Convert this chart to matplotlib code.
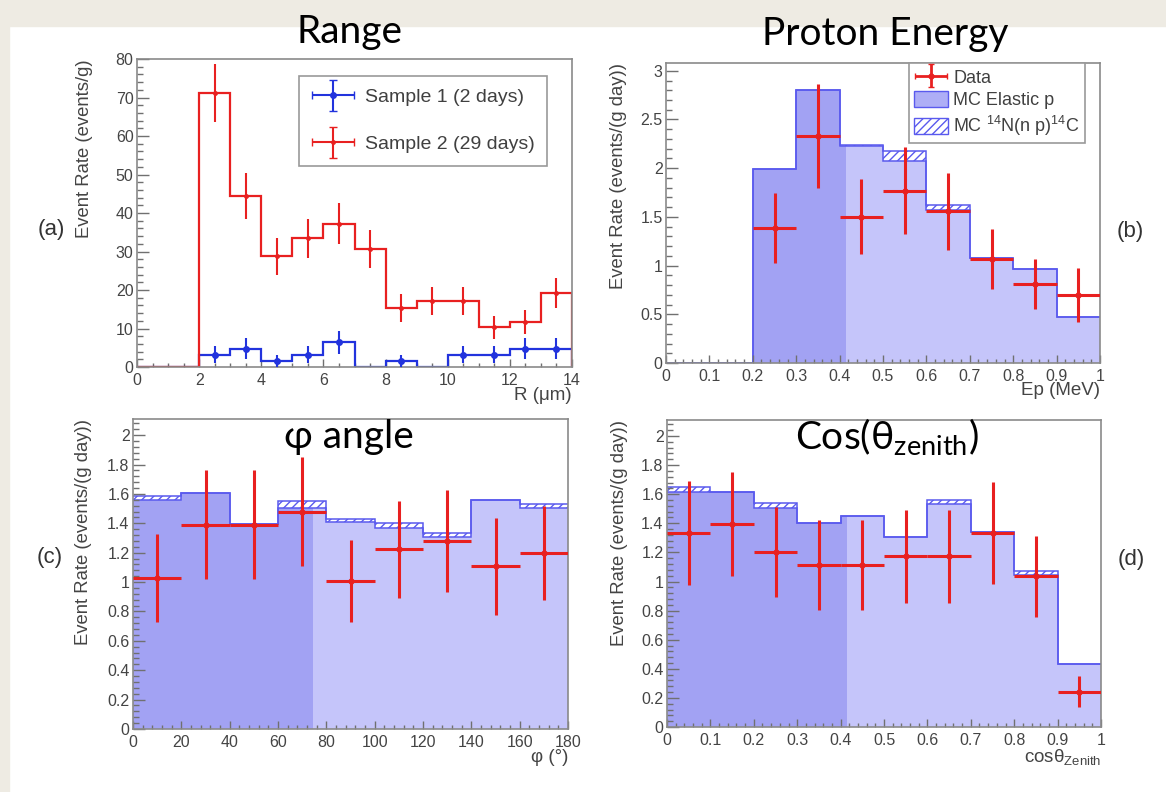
import numpy as np
import matplotlib
matplotlib.use('Agg')
import matplotlib.pyplot as plt
from matplotlib.patches import Rectangle, Patch
from matplotlib.container import ErrorbarContainer
from matplotlib.legend_handler import HandlerErrorbar
from matplotlib.ticker import MultipleLocator, FuncFormatter

# ---------------- data ----------------
# (a) Range
range_edges = np.arange(0, 15, 1)
s1_rate = np.array([0, 0, 3.2, 4.8, 1.6, 3.2, 6.4, 0, 1.6, 0, 3.2, 3.2, 4.8, 4.8])
s1_err = np.array([0, 0, 2.2, 2.7, 1.6, 2.2, 3.0, 0, 1.6, 0, 2.2, 2.2, 2.7, 2.7])
s2_rate = np.array([0, 0, 71.2, 44.5, 28.8, 33.4, 37.2, 30.6, 15.3, 17.2, 17.2, 10.3, 11.8, 19.2])
s2_err = np.array([0, 0, 7.5, 6.0, 4.8, 5.1, 5.3, 4.9, 3.7, 3.7, 3.7, 2.9, 3.1, 3.9])
range_labels = ['Sample 1 (2 days)', 'Sample 2 (29 days)']

# (b) Proton energy
ep_edges = np.round(np.arange(0, 1.01, 0.1), 2)
ep_mc_elastic = np.array([0, 0, 1.99, 2.80, 2.23, 2.07, 1.57, 1.08, 0.97, 0.47])
ep_mc_n14 = np.array([0, 0, 0, 0, 0.01, 0.11, 0.05, 0, 0, 0])
ep_centers = np.array([0.25, 0.35, 0.45, 0.55, 0.65, 0.75, 0.85, 0.95])
ep_data = np.array([1.39, 2.33, 1.50, 1.77, 1.56, 1.07, 0.81, 0.70])
ep_err = np.array([0.36, 0.535, 0.385, 0.45, 0.395, 0.31, 0.26, 0.275])
mc_labels = ['Data', 'MC Elastic p', r'MC $^{14}$N(n p)$^{14}$C']

# (c) phi angle
phi_edges = np.arange(0, 181, 20)
phi_mc_elastic = np.array([1.557, 1.607, 1.393, 1.507, 1.41, 1.368, 1.307, 1.557, 1.507])
phi_mc_n14 = np.array([0.03, 0, 0, 0.045, 0.022, 0.037, 0.027, 0, 0.027])
phi_centers = np.arange(10, 180, 20)
phi_data = np.array([1.03, 1.39, 1.39, 1.48, 1.005, 1.223, 1.28, 1.109, 1.2])
phi_err = np.array([0.30, 0.37, 0.37, 0.37, 0.28, 0.33, 0.35, 0.33, 0.32])

# (d) cos zenith
cos_edges = np.round(np.arange(0, 1.01, 0.1), 2)
cos_mc_elastic = np.array([1.617, 1.614, 1.503, 1.399, 1.447, 1.304, 1.53, 1.338, 1.043, 0.435])
cos_mc_n14 = np.array([0.031, 0, 0.039, 0, 0, 0, 0.028, 0, 0.03, 0])
cos_centers = np.round(np.arange(0.05, 1.0, 0.1), 2)
cos_data = np.array([1.331, 1.395, 1.202, 1.116, 1.116, 1.172, 1.172, 1.333, 1.036, 0.243])
cos_err = np.array([0.357, 0.355, 0.31, 0.31, 0.31, 0.32, 0.32, 0.35, 0.28, 0.105])

titles = ['Range', 'Proton Energy', 'φ angle', r'Cos(θ$_{zenith}$)']
panel_tags = ['(a)', '(b)', '(c)', '(d)']

# ---------------- style ----------------
plt.rcParams['font.family'] = ['Liberation Sans', 'DejaVu Sans']
plt.rcParams['mathtext.default'] = 'regular'
plt.rcParams['hatch.linewidth'] = 1.0

RED = '#e82020'
BLUE = '#2233dd'
DARK_FILL = '#a2a2f3'
LIGHT_FILL = '#c5c5fa'
OUTLINE = '#5a5aee'
HATCH = '#5a5aee'
GREY = '#8a8a8a'
TICKLBL = '#444444'
BEIGE = '#eeebe3'
TITLE_FONT = ['Lato', 'Open Sans', 'DejaVu Sans']

W, H = 1166, 792
fig = plt.figure(figsize=(W / 100, H / 100), dpi=100)
fig.patch.set_facecolor('white')
fig.add_artist(Rectangle((0, 1 - 26 / H), 1, 26 / H, transform=fig.transFigure,
                         color=BEIGE, zorder=-10))
fig.add_artist(Rectangle((0, 0), 9 / W, 1, transform=fig.transFigure,
                         color=BEIGE, zorder=-10))


def px_axes(l, t, r, b):
    return fig.add_axes([l / W, 1 - b / H, (r - l) / W, (b - t) / H])


def gfmt(v, p):
    return f'{v:g}'


def style(ax, xlim, ylim, xmaj, xmin, ymaj, ymin):
    ax.set_xlim(*xlim)
    ax.set_ylim(*ylim)
    ax.xaxis.set_major_locator(MultipleLocator(xmaj))
    ax.xaxis.set_minor_locator(MultipleLocator(xmin))
    ax.yaxis.set_major_locator(MultipleLocator(ymaj))
    ax.yaxis.set_minor_locator(MultipleLocator(ymin))
    ax.xaxis.set_major_formatter(FuncFormatter(gfmt))
    ax.yaxis.set_major_formatter(FuncFormatter(gfmt))
    ax.tick_params(which='both', direction='in', top=False, right=False,
                   color='#707070', labelcolor=TICKLBL, labelsize=11.5, width=1.0)
    ax.tick_params(axis='y', which='major', length=8.5, pad=2.5)
    ax.tick_params(axis='y', which='minor', length=4.5)
    ax.tick_params(axis='x', which='major', length=6, pad=4)
    ax.tick_params(axis='x', which='minor', length=3)
    for s in ax.spines.values():
        s.set_color(GREY)
        s.set_linewidth(1.2)


def labels(ax, xl, yl, yx):
    ax.set_xlabel(xl, loc='right', fontsize=13.5, color=TICKLBL)
    ax.xaxis.set_label_coords(1.0, -0.065)
    ax.xaxis.label.set_va('top')
    ax.set_ylabel(yl, loc='top', fontsize=13.3, color=TICKLBL)
    ax.yaxis.set_label_coords(yx, 1.0)


ax_a = px_axes(137, 59, 572, 367)
ax_b = px_axes(666, 63, 1100, 363)
ax_c = px_axes(133, 419, 568, 729)
ax_d = px_axes(667, 420, 1101, 727)

# ---------------- (a) ----------------
centers_a = (range_edges[:-1] + range_edges[1:]) / 2
ax_a.stairs(s1_rate, range_edges, color=BLUE, lw=1.6, zorder=2)
ax_a.stairs(s2_rate, range_edges, color=RED, lw=1.6, zorder=2.1)
m1 = s1_rate > 0
ax_a.errorbar(centers_a[m1], s1_rate[m1], yerr=s1_err[m1], fmt='o', ms=4,
              color=BLUE, lw=1.5, capsize=0, zorder=3)
m2 = s2_rate > 0
ax_a.errorbar(centers_a[m2], s2_rate[m2], yerr=s2_err[m2], fmt='o', ms=2.5,
              color=RED, lw=1.5, capsize=0, zorder=3)
style(ax_a, (0, 14), (0, 80), 2, 0.5, 10, 2)
labels(ax_a, 'R (μm)', 'Event Rate (events/g)', -0.101)

prox1 = ax_a.errorbar([np.nan], [np.nan], xerr=[1], yerr=[1], fmt='o', ms=4,
                      color=BLUE, lw=1.5, capsize=3)
prox2 = ax_a.errorbar([np.nan], [np.nan], xerr=[1], yerr=[1], fmt='o', ms=2.5,
                      color=RED, lw=1.5, capsize=3)
leg = ax_a.legend([prox1, prox2], range_labels, loc='upper left',
                  bbox_to_anchor=(0.3724, 0.9448), fontsize=14,
                  labelspacing=1.5, borderpad=0.65, handlelength=2.2,
                  handletextpad=0.55, borderaxespad=0, fancybox=False,
                  framealpha=1, edgecolor='#999999',
                  handler_map={ErrorbarContainer: HandlerErrorbar(xerr_size=1.1, yerr_size=0.8)})
leg.get_frame().set_linewidth(1.2)
for t in leg.get_texts():
    t.set_color('#404040')


# ---------------- MC panels ----------------
def mc_panel(ax, edges, elastic, n14, centers, data, err, split=0.414):
    total = elastic + n14
    halfw = (edges[1] - edges[0]) / 2
    ax.stairs(elastic, edges, fill=True, color=LIGHT_FILL, lw=0, zorder=1)
    dark = ax.stairs(elastic, edges, fill=True, color=DARK_FILL, lw=0, zorder=1.1)
    dark.set_clip_path(Rectangle((0, 0), split, 1, transform=ax.transAxes))
    ax.stairs(total, edges, baseline=elastic, fill=True, facecolor='white',
              edgecolor=HATCH, hatch='////', lw=0, zorder=1.2)
    ax.stairs(elastic, edges, color=OUTLINE, lw=1.1, zorder=1.3, baseline=None)
    ax.stairs(total, edges, color=OUTLINE, lw=1.1, zorder=1.3, baseline=None)
    h = ax.errorbar(centers, data, xerr=halfw, yerr=err, fmt='o', ms=3.5,
                    color=RED, lw=2.2, capsize=0, zorder=3)
    return h


mc_panel(ax_b, ep_edges, ep_mc_elastic, ep_mc_n14, ep_centers, ep_data, ep_err)
style(ax_b, (0, 1), (0, 3.08), 0.1, 0.02, 0.5, 0.1)
labels(ax_b, 'Ep (MeV)', 'Event Rate (events/(g day))', -0.09)

proxd = ax_b.errorbar([np.nan], [np.nan], xerr=[1], yerr=[1], fmt='o', ms=3.5,
                      color=RED, lw=2.0, capsize=2.5)
p_el = Patch(facecolor='#aeaef6', edgecolor=OUTLINE, lw=1.0)
p_n = Patch(facecolor='white', edgecolor=HATCH, hatch='////', lw=1.0)
leg_b = ax_b.legend([proxd, p_el, p_n], mc_labels, loc='upper left',
                    bbox_to_anchor=(0.56, 1.0), fontsize=13,
                    labelspacing=0.25, borderpad=0.3, handlelength=1.85,
                    handleheight=1.0, handletextpad=0.3, borderaxespad=0,
                    fancybox=False, framealpha=1, edgecolor='#999999',
                    handler_map={ErrorbarContainer: HandlerErrorbar(xerr_size=0.9, yerr_size=0.65)})
leg_b.get_frame().set_linewidth(1.2)
for t in leg_b.get_texts():
    t.set_color('#404040')

mc_panel(ax_c, phi_edges, phi_mc_elastic, phi_mc_n14, phi_centers, phi_data, phi_err)
style(ax_c, (0, 180), (0, 2.11), 20, 4, 0.2, 0.04)
labels(ax_c, 'φ (°)', 'Event Rate (events/(g day))', -0.094)

mc_panel(ax_d, cos_edges, cos_mc_elastic, cos_mc_n14, cos_centers, cos_data, cos_err)
style(ax_d, (0, 1), (0, 2.11), 0.1, 0.02, 0.2, 0.04)
labels(ax_d, r'cosθ$_{Zenith}$', 'Event Rate (events/(g day))', -0.09)

# ---------------- titles and tags ----------------
title_pos = [(349, 43), (885, 45), (349, 448), (887, 449)]
for (x, y), t in zip(title_pos, titles):
    fig.text(x / W, 1 - y / H, t, ha='center', va='baseline', fontsize=28,
             family=TITLE_FONT, color='black', zorder=5)

tag_pos = [(51, 230), (1130, 232), (50, 558), (1131, 560)]
for (x, y), t in zip(tag_pos, panel_tags):
    fig.text(x / W, 1 - y / H, t, ha='center', va='center', fontsize=16,
             color='#333333')

fig.savefig('out.png', dpi=100, facecolor=fig.get_facecolor())
